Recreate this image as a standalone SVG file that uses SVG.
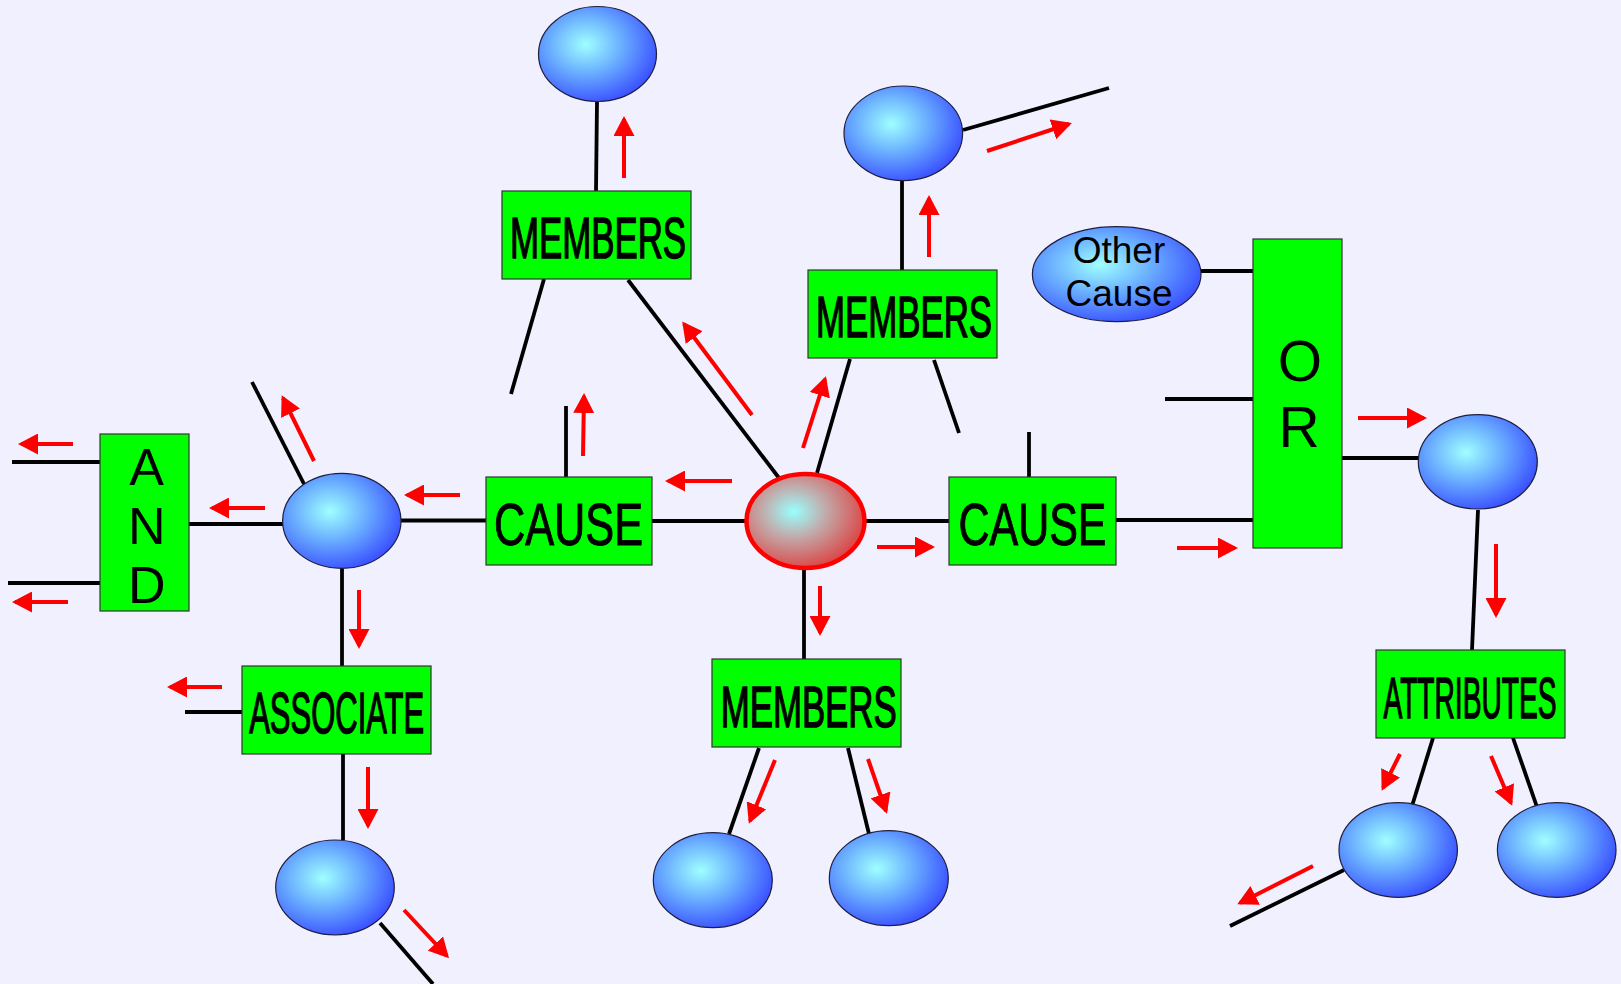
<svg xmlns="http://www.w3.org/2000/svg" width="1621" height="984" viewBox="0 0 1621 984">
<defs>
<radialGradient id="gBlue" cx="0.4" cy="0.4" r="0.68" fx="0.4" fy="0.4">
<stop offset="0" stop-color="#9FFFFF"/>
<stop offset="0.45" stop-color="#6AAEFF"/>
<stop offset="1" stop-color="#3344FF"/>
</radialGradient>
<radialGradient id="gRed" cx="0.4" cy="0.4" r="0.68" fx="0.4" fy="0.4">
<stop offset="0" stop-color="#99FFFF"/>
<stop offset="0.4" stop-color="#C2AAAA"/>
<stop offset="1" stop-color="#E03636"/>
</radialGradient>
<marker id="ah" markerUnits="userSpaceOnUse" markerWidth="20" markerHeight="21" viewBox="0 0 20 21" refX="17" refY="10.5" orient="auto">
<path d="M0,0 L20,10.5 L0,21 Z" fill="#FF0000"/>
</marker>
</defs>
<style>
.ln{stroke:#000;stroke-width:3.8;fill:none}
.ar{stroke:#FF0000;stroke-width:4;fill:none;marker-end:url(#ah)}
.bl{fill:url(#gBlue);stroke:#1E1E40;stroke-width:1.2}
.box{fill:#00FF00;stroke:#333;stroke-width:1.2}
.lbl{font-family:"Liberation Sans",Arial,sans-serif;fill:#000;text-anchor:middle}
.nar{stroke:#000;stroke-width:1.5}
.cau{stroke:#000;stroke-width:1}
</style>
<rect x="0" y="0" width="1621" height="984" fill="#F0F0FF"/>
<g id="connectors">
<line class="ln" x1="597" y1="102" x2="596" y2="191"/>
<line class="ln" x1="544" y1="279" x2="511" y2="394"/>
<line class="ln" x1="628" y1="280" x2="779" y2="478"/>
<line class="ln" x1="566" y1="406" x2="566" y2="477"/>
<line class="ln" x1="652" y1="521" x2="746" y2="521"/>
<line class="ln" x1="401" y1="520.5" x2="486" y2="520.5"/>
<line class="ln" x1="189" y1="524" x2="283" y2="524"/>
<line class="ln" x1="12" y1="462" x2="100" y2="462"/>
<line class="ln" x1="8" y1="583" x2="100" y2="583"/>
<line class="ln" x1="304" y1="484" x2="252" y2="382"/>
<line class="ln" x1="342" y1="568" x2="342" y2="666"/>
<line class="ln" x1="185" y1="712" x2="242" y2="712"/>
<line class="ln" x1="343" y1="754" x2="343" y2="840"/>
<line class="ln" x1="380" y1="923" x2="433" y2="984"/>
<line class="ln" x1="817" y1="473" x2="850" y2="359"/>
<line class="ln" x1="902" y1="270" x2="902" y2="181"/>
<line class="ln" x1="963" y1="130" x2="1109" y2="88"/>
<line class="ln" x1="934" y1="360" x2="959" y2="433"/>
<line class="ln" x1="1029" y1="432" x2="1029" y2="478"/>
<line class="ln" x1="866" y1="521" x2="949" y2="521"/>
<line class="ln" x1="1116" y1="520" x2="1253" y2="520"/>
<line class="ln" x1="1201" y1="271" x2="1253" y2="271"/>
<line class="ln" x1="1165" y1="399" x2="1253" y2="399"/>
<line class="ln" x1="1342" y1="458" x2="1418" y2="458"/>
<line class="ln" x1="1478" y1="510" x2="1472" y2="650"/>
<line class="ln" x1="1433" y1="738" x2="1412" y2="806"/>
<line class="ln" x1="1513" y1="738" x2="1537" y2="807"/>
<line class="ln" x1="1344" y1="870" x2="1230" y2="926"/>
<line class="ln" x1="804" y1="570" x2="804" y2="659"/>
<line class="ln" x1="759" y1="748" x2="729" y2="834"/>
<line class="ln" x1="848" y1="748" x2="869" y2="834"/>
</g>
<g id="flow-arrows">
<line class="ar" x1="624" y1="178" x2="624" y2="119"/>
<line class="ar" x1="752" y1="415" x2="684" y2="324"/>
<line class="ar" x1="583" y1="456" x2="584" y2="396"/>
<line class="ar" x1="732" y1="481" x2="668" y2="481"/>
<line class="ar" x1="460" y1="495" x2="407" y2="495"/>
<line class="ar" x1="265" y1="508" x2="212" y2="508"/>
<line class="ar" x1="73" y1="444" x2="21" y2="444"/>
<line class="ar" x1="68" y1="602" x2="15" y2="602"/>
<line class="ar" x1="314" y1="461" x2="283" y2="398"/>
<line class="ar" x1="359" y1="590" x2="359" y2="646"/>
<line class="ar" x1="222" y1="687" x2="170" y2="687"/>
<line class="ar" x1="368" y1="767" x2="368" y2="826"/>
<line class="ar" x1="404" y1="910" x2="447" y2="956"/>
<line class="ar" x1="803" y1="448" x2="825" y2="379"/>
<line class="ar" x1="929" y1="257" x2="929" y2="198"/>
<line class="ar" x1="987" y1="151" x2="1069" y2="124"/>
<line class="ar" x1="877" y1="547" x2="932" y2="547"/>
<line class="ar" x1="1177" y1="548" x2="1235" y2="548"/>
<line class="ar" x1="1358" y1="418" x2="1424" y2="418"/>
<line class="ar" x1="1496" y1="544" x2="1496" y2="615"/>
<line class="ar" x1="1400" y1="754" x2="1383" y2="788"/>
<line class="ar" x1="1491" y1="756" x2="1511" y2="803"/>
<line class="ar" x1="1313" y1="866" x2="1240" y2="903"/>
<line class="ar" x1="820" y1="586" x2="820" y2="633"/>
<line class="ar" x1="775" y1="760" x2="750" y2="821"/>
<line class="ar" x1="868" y1="759" x2="886" y2="811"/>
</g>
<g id="center-node"><ellipse cx="805.5" cy="521" rx="59" ry="47" fill="url(#gRed)" stroke="#FF0000" stroke-width="4.5"/></g>
<g id="ell-top"><ellipse class="bl" cx="597.5" cy="54" rx="59" ry="47.5"/></g>
<g id="ell-topright"><ellipse class="bl" cx="903.3" cy="133.3" rx="59.3" ry="47.3"/></g>
<g id="ell-left"><ellipse class="bl" cx="341.8" cy="520.8" rx="59.2" ry="47.5"/></g>
<g id="ell-assoc"><ellipse class="bl" cx="335" cy="887.5" rx="59.3" ry="47.5"/></g>
<g id="ell-mem-l"><ellipse class="bl" cx="712.8" cy="880.2" rx="59.5" ry="47.5"/></g>
<g id="ell-mem-r"><ellipse class="bl" cx="888.8" cy="878.2" rx="59.5" ry="47.5"/></g>
<g id="ell-right"><ellipse class="bl" cx="1477.8" cy="461.8" rx="59.5" ry="47.2"/></g>
<g id="ell-attr-l"><ellipse class="bl" cx="1398.2" cy="850" rx="59.2" ry="47.3"/></g>
<g id="ell-attr-r"><ellipse class="bl" cx="1556.7" cy="850" rx="59.3" ry="47.3"/></g>
<g id="other-cause"><ellipse class="bl" cx="1116.7" cy="274.2" rx="84.3" ry="47.5"/>
<text class="lbl" x="1119" y="263" font-size="37">Other</text>
<text class="lbl" x="1119" y="306" font-size="37">Cause</text></g>
<g id="members-top"><rect class="box" x="502" y="191" width="189" height="88"/>
<text class="lbl nar" x="598" y="258" font-size="58" textLength="176" lengthAdjust="spacingAndGlyphs">MEMBERS</text></g>
<g id="members-mid"><rect class="box" x="808" y="270" width="189" height="88"/>
<text class="lbl nar" x="904" y="336.5" font-size="57" textLength="176" lengthAdjust="spacingAndGlyphs">MEMBERS</text></g>
<g id="members-bottom"><rect class="box" x="712" y="659" width="189" height="88"/>
<text class="lbl nar" x="808.7" y="726.5" font-size="58" textLength="176" lengthAdjust="spacingAndGlyphs">MEMBERS</text></g>
<g id="cause-left"><rect class="box" x="486" y="477" width="166" height="88"/>
<text class="lbl cau" x="568.5" y="545" font-size="59" textLength="149" lengthAdjust="spacingAndGlyphs">CAUSE</text></g>
<g id="cause-right"><rect class="box" x="949" y="477" width="167" height="88"/>
<text class="lbl cau" x="1032.5" y="545" font-size="59" textLength="148" lengthAdjust="spacingAndGlyphs">CAUSE</text></g>
<g id="associate"><rect class="box" x="242" y="666" width="189" height="88"/>
<text class="lbl nar" x="336.7" y="733" font-size="58" textLength="175" lengthAdjust="spacingAndGlyphs">ASSOCIATE</text></g>
<g id="attributes"><rect class="box" x="1376" y="650" width="189" height="88"/>
<text class="lbl nar" x="1470" y="718" font-size="58" textLength="173" lengthAdjust="spacingAndGlyphs">ATTRIBUTES</text></g>
<g id="and"><rect class="box" x="100" y="434" width="89" height="177"/>
<text class="lbl" x="146.7" y="485" font-size="52">A</text>
<text class="lbl" x="146.7" y="544" font-size="52">N</text>
<text class="lbl" x="146.7" y="602.5" font-size="52">D</text></g>
<g id="or"><rect class="box" x="1253" y="239" width="89" height="309"/>
<text class="lbl" x="1300" y="381" font-size="57">O</text>
<text class="lbl" x="1299" y="446.5" font-size="57">R</text></g>
</svg>
